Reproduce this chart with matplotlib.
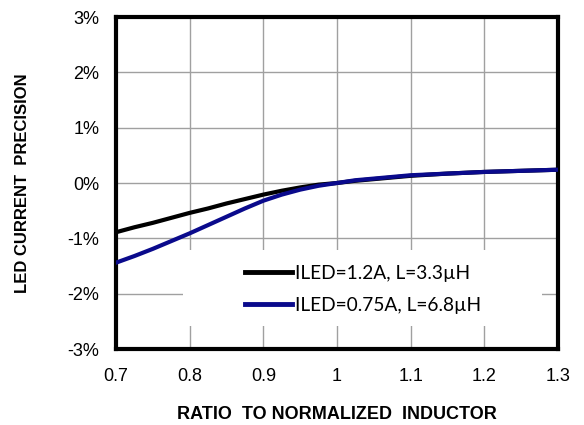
import matplotlib.pyplot as plt
from matplotlib.patches import Rectangle
from matplotlib.ticker import FuncFormatter

# ratio to normalized inductor
ratio = [0.7, 0.725, 0.75, 0.775, 0.8, 0.825, 0.85, 0.875, 0.9, 0.925, 0.95, 0.975,
         1.0, 1.025, 1.05, 1.075, 1.1, 1.15, 1.2, 1.25, 1.3]
# precision, %
prec_12a = [-0.89, -0.80, -0.72, -0.63, -0.54, -0.46, -0.37, -0.29, -0.21, -0.14, -0.08, -0.03,
            0.0, 0.04, 0.07, 0.10, 0.13, 0.17, 0.20, 0.22, 0.24]
prec_075a = [-1.44, -1.32, -1.19, -1.05, -0.91, -0.76, -0.61, -0.46, -0.32, -0.21, -0.12, -0.05,
             0.0, 0.05, 0.08, 0.11, 0.14, 0.17, 0.20, 0.22, 0.24]

label_12a = "ILED=1.2A, L=3.3\u00b5H"
label_075a = "ILED=0.75A, L=6.8\u00b5H"

fig = plt.figure(figsize=(5.84, 4.25), dpi=100)
ax = fig.add_axes([116/584, 1 - 349/425, 442/584, 332/425])

ax.plot(ratio, prec_12a, color="black", lw=3, label=label_12a, zorder=3)
ax.plot(ratio, prec_075a, color="#0a0a8c", lw=3, label=label_075a, zorder=3)

ax.set_xlim(0.7, 1.3)
ax.set_ylim(-3, 3)
ax.set_xticks([0.7, 0.8, 0.9, 1.0, 1.1, 1.2, 1.3])
ax.set_xticklabels(["0.7", "0.8", "0.9", "1", "1.1", "1.2", "1.3"])
ax.set_yticks(range(-3, 4))
ax.yaxis.set_major_formatter(FuncFormatter(lambda v, p: "%d%%" % v))
ax.tick_params(length=0, labelsize=13)
ax.tick_params(axis="x", pad=14)
ax.tick_params(axis="y", pad=12)
for t in ax.get_xticklabels() + ax.get_yticklabels():
    t.set_family("Liberation Sans")

ax.set_axisbelow(True)
ax.grid(True, color="#a0a0a0", lw=1)
for s in ax.spines.values():
    s.set_linewidth(3)

# white box behind legend hides the grid
ax.add_patch(Rectangle((0.152, 0.069), 0.812, 0.229, transform=ax.transAxes,
                       facecolor="white", edgecolor="none", zorder=1))
leg = ax.legend(loc="center left", bbox_to_anchor=(0.291, 0.18), frameon=False,
                handlelength=2.45, handletextpad=0.16, labelspacing=0.8,
                borderpad=0, borderaxespad=0,
                prop={"family": "Lato", "size": 13.8})
for h in leg.get_lines():
    h.set_linewidth(3.5)

ax.set_xlabel("RATIO  TO NORMALIZED  INDUCTOR", fontsize=13, fontweight="bold",
              family="Liberation Sans", labelpad=15)
ax.set_ylabel("LED CURRENT  PRECISION", fontsize=12, fontweight="bold",
              family="Liberation Sans", labelpad=27)

fig.savefig("out.png", dpi=100)
